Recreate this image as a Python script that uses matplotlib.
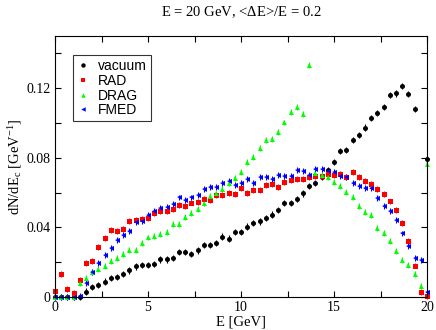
import numpy as np
import matplotlib
matplotlib.use("Agg")
import matplotlib.pyplot as plt
from matplotlib.ticker import MultipleLocator
from matplotlib.lines import Line2D

# Energy grid (GeV)
E = np.arange(61) / 3.0

vacuum = [0.0, 0.0, 0.0, 0.0, 0.0, 0.0031, 0.0056, 0.0068, 0.0089, 0.0111,
          0.0116, 0.0134, 0.0153, 0.0176, 0.0182, 0.0184, 0.0191, 0.0216, 0.0216, 0.0224,
          0.0257, 0.0257, 0.0249, 0.0268, 0.0297, 0.0299, 0.0311, 0.0347, 0.0336, 0.0374,
          0.0374, 0.0405, 0.0424, 0.0434, 0.0455, 0.0474, 0.0499, 0.0541, 0.0539, 0.0564,
          0.0595, 0.0640, 0.0654, 0.0690, 0.0728, 0.0775, 0.0838, 0.0845, 0.0903, 0.0930,
          0.0974, 0.1028, 0.1059, 0.1092, 0.1161, 0.1170, 0.1211, 0.1168, 0.1082, np.nan,
          0.0792]

rad = [0.0034, 0.0134, 0.0046, 0.0021, 0.0099, 0.0197, 0.0207, 0.0286, 0.0339, 0.0385,
       0.0379, 0.0392, 0.0435, 0.0440, 0.0451, 0.0456, 0.0481, 0.0495, 0.0492, 0.0503,
       0.0530, 0.0522, 0.0543, 0.0545, 0.0564, 0.0557, 0.0584, 0.0584, 0.0599, 0.0591,
       0.0625, 0.0599, 0.0615, 0.0615, 0.0643, 0.0649, 0.0632, 0.0662, 0.0674, 0.0680,
       0.0680, 0.0691, 0.0693, 0.0695, 0.0707, 0.0701, 0.0707, 0.0690, 0.0720, 0.0690,
       0.0666, 0.0649, 0.0620, 0.0590, 0.0549, 0.0502, 0.0426, 0.0321, 0.0181, 0.0030,
       0.0003]

drag = [0.0, 0.0, 0.0, 0.0, 0.0078, 0.0111, 0.0143, 0.0159, 0.0178, 0.0205,
        0.0226, 0.0249, 0.0268, 0.0268, 0.0309, 0.0342, 0.0352, 0.0361, 0.0374, 0.0418,
        0.0420, 0.0460, 0.0485, 0.0505, 0.0541, 0.0580, 0.0595, 0.0619, 0.0653, 0.0686,
        0.0718, 0.0774, 0.0803, 0.0855, 0.0903, 0.0907, 0.0949, 0.1003, 0.1063, 0.1093,
        0.1051, 0.1332, 0.0715, 0.0703, 0.0690, 0.0663, 0.0640, 0.0605, 0.0576, 0.0524,
        0.0490, 0.0470, 0.0398, 0.0368, 0.0322, 0.0264, 0.0211, 0.0182, 0.0130, 0.0061,
        0.0767]

fmed = [0.0, 0.0, 0.0, 0.0, 0.0005, 0.0082, 0.0143, 0.0195, 0.0243, 0.0284,
        0.0328, 0.0355, 0.0379, 0.0429, 0.0435, 0.0472, 0.0492, 0.0511, 0.0520, 0.0534,
        0.0572, 0.0557, 0.0572, 0.0587, 0.0619, 0.0630, 0.0634, 0.0653, 0.0665, 0.0645,
        0.0653, 0.0676, 0.0657, 0.0690, 0.0688, 0.0680, 0.0703, 0.0694, 0.0697, 0.0728,
        0.0726, 0.0703, 0.0736, 0.0736, 0.0726, 0.0720, 0.0695, 0.0688, 0.0657, 0.0640,
        0.0627, 0.0624, 0.0567, 0.0524, 0.0494, 0.0442, 0.0365, 0.0291, 0.0222, 0.0213,
        0.0030]

labels = ["vacuum", "RAD", "DRAG", "FMED"]
colors = ["black", "#ff0000", "#00ff00", "#0000ff"]
markers = ["o", "s", "^", "<"]
errs = [0.0018, 0.0017, 0.0017, 0.0017]

plt.rcParams['font.family'] = ['Liberation Serif', 'DejaVu Serif']
plt.rcParams['mathtext.fontset'] = 'custom'
plt.rcParams['mathtext.rm'] = 'Liberation Serif'
plt.rcParams['mathtext.it'] = 'Liberation Serif:italic'

fig = plt.figure(figsize=(4.36, 3.30), dpi=100)
ax = fig.add_axes([55/436, 33/330, 372/436, 261/330])

series = [vacuum, rad, drag, fmed]
for y, c, m, e in zip(series, colors, markers, errs):
    y = np.asarray(y, dtype=float)
    ax.errorbar(E, y, yerr=e, fmt=m, color=c, ecolor=c, markersize=3.6,
                markeredgewidth=0, elinewidth=0.8, capsize=2.6, capthick=0.9,
                clip_on=False)

ax.set_xlim(0, 20)
ax.set_ylim(0, 0.15)
ax.xaxis.set_major_locator(MultipleLocator(5))
ax.xaxis.set_minor_locator(MultipleLocator(2.5))
ax.yaxis.set_minor_locator(MultipleLocator(0.02))
ax.set_yticks([0, 0.04, 0.08, 0.12])
ax.set_yticklabels(["0", "0.04", "0.08", "0.12"])
ax.tick_params(which='both', direction='in', top=True, right=True, labelsize=10,
               width=0.8, length=4, pad=3)
for s in ax.spines.values():
    s.set_linewidth(0.8)

ax.set_xlabel("E [GeV]", fontsize=10.5, labelpad=1)
ax.set_ylabel(r"dN/dE$_\mathrm{c}$ [GeV$^{-1}$]", fontsize=10.5, labelpad=2)
fig.text(241/436, 1 - 12/330, r"E = 20 GeV, <$\Delta$E>/E = 0.2", ha='center', va='center',
         fontsize=10.5)

handles = [Line2D([], [], linestyle='none', marker=m, color=c, markersize=3.2,
                  markeredgewidth=0) for c, m in zip(colors, markers)]
leg = ax.legend(handles, labels, loc='upper left', bbox_to_anchor=(0.048, 0.927),
                borderaxespad=0, prop={'family': 'Liberation Sans', 'size': 10},
                frameon=True, fancybox=False, edgecolor='black', handlelength=0.8,
                handletextpad=0.7, labelspacing=0.05, borderpad=0.3)
leg.get_frame().set_linewidth(0.8)

fig.savefig("out.png", dpi=100)
